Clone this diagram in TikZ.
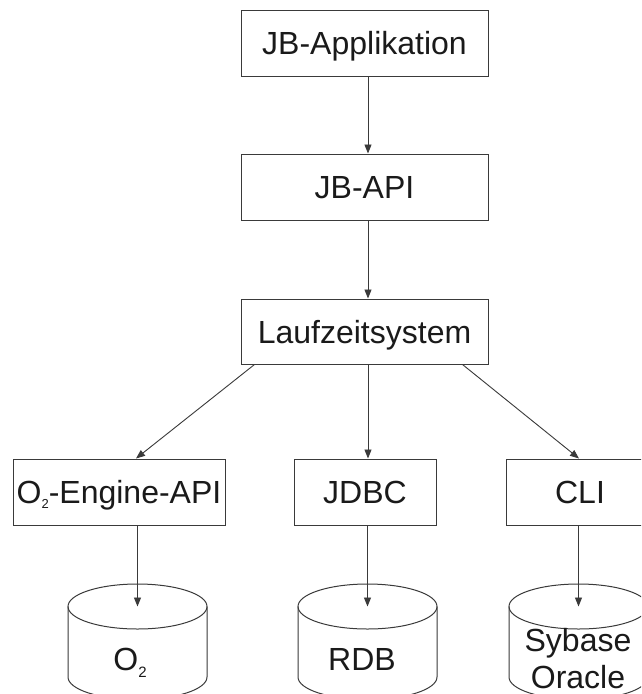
\documentclass[tikz,border=0pt]{standalone}
\usepackage{fontspec}
\setmainfont{Liberation Sans}
\usetikzlibrary{arrows.meta}
\definecolor{linec}{HTML}{3A3A3A}
\definecolor{textc}{HTML}{1A1A1A}
\tikzset{
  box/.style={draw=linec, line width=1pt, rectangle, inner sep=0pt, minimum height=66pt,
    text height=23pt, text depth=0pt, text=textc, font=\fontsize{32}{37}\selectfont},
  arr/.style={draw=linec, line width=0.9pt, -{Triangle[length=9pt,width=7pt]}},
  cyl/.style={draw=linec, line width=1pt},
  dblabel/.style={anchor=base, inner sep=0pt, text=textc, font=\fontsize{32}{37}\selectfont, align=center}
}
\begin{document}
\begin{tikzpicture}[x=1pt,y=-1pt]
\useasboundingbox (0,0) rectangle (641,694);
\clip (0,0) rectangle (641,694);
\fill[white] (0,0) rectangle (641,694);
% boxes
\node[box, minimum width=247pt] (app) at (364.5,43) {JB-Applikation};
\node[box, minimum width=247pt] (api) at (364.5,187) {JB-API};
\node[box, minimum width=247pt, minimum height=65pt] (rt) at (364.5,331.5) {Laufzeitsystem};
\node[box, minimum width=212pt] (o2e) at (119,492) {O\raisebox{-5pt}{\fontsize{13}{13}\selectfont 2}-Engine-API};
\node[box, minimum width=142pt] (jdbc) at (365,492) {JDBC};
\node[box, minimum width=148pt] (cli) at (580,492) {CLI};
% cylinders
\foreach \cx/\nm in {137.5/c1, 367.5/c2, 578.5/c3}{
  \draw[cyl] (\cx-69.5,606.5) -- (\cx-69.5,677) arc[start angle=180, end angle=360, x radius=69.5pt, y radius=22.5pt] -- (\cx+69.5,606.5);
  \draw[cyl] (\cx,606.5) ellipse [x radius=69.5pt, y radius=22.5pt];
  \coordinate (\nm) at (\cx,606.5);
}
\node[dblabel] (o2db) at (130,670) {O\raisebox{-7pt}{\fontsize{15}{15}\selectfont 2}};
\node[dblabel] (rdb) at (362,670) {RDB};
\node[dblabel] (syb) at (578,688) {Sybase\\Oracle};
% connectors
\draw[arr] ([xshift=3.5pt]app.south) -- ([xshift=3.5pt]api.north);
\draw[arr] ([xshift=3.5pt]api.south) -- ([xshift=3.5pt]rt.north);
\draw[arr] ([xshift=14pt]rt.south west) -- ([xshift=17pt]o2e.north);
\draw[arr] ([xshift=3.5pt]rt.south) -- ([xshift=3pt]jdbc.north);
\draw[arr] ([xshift=-26pt]rt.south east) -- ([xshift=-1pt]cli.north);
\draw[arr] (o2e.south -| c1) -- (c1);
\draw[arr] (jdbc.south -| c2) -- (c2);
\draw[arr] (cli.south -| c3) -- (c3);
\end{tikzpicture}
\end{document}
